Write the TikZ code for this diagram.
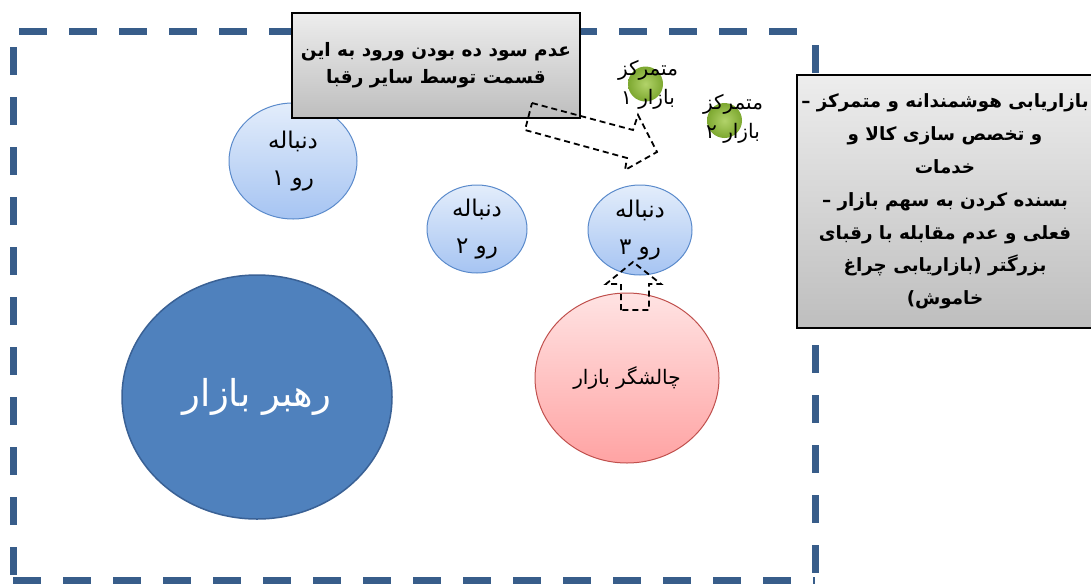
\documentclass[tikz,border=0pt]{standalone}
\usepackage{fontspec}
\setmainfont{DejaVu Sans}
\newfontfamily\ar[Script=Arabic]{DejaVu Sans}
\TeXXeTstate=1
\usetikzlibrary{shapes.geometric}
\definecolor{frameblue}{HTML}{385D8A}
\definecolor{leaderfill}{HTML}{4F81BD}
\definecolor{leaderdraw}{HTML}{3A6195}
\definecolor{folltop}{HTML}{E3EDFB}
\definecolor{follbot}{HTML}{A6C4F2}
\definecolor{folldraw}{HTML}{5A8ACB}
\definecolor{chaltop}{HTML}{FFE3E3}
\definecolor{chalbot}{HTML}{FFA3A3}
\definecolor{chaldraw}{HTML}{C0504D}
\definecolor{boxtop}{HTML}{EDEDED}
\definecolor{boxbot}{HTML}{BEBEBE}
\definecolor{greenin}{HTML}{B2D36A}
\definecolor{greenout}{HTML}{7DA830}
\tikzset{
  frameline/.style={draw=frameblue, line width=7pt, dash pattern=on 28pt off 22pt},
  blob/.style={ellipse, inner sep=0pt, align=center, line width=1pt},
  follower/.style={blob, draw=folldraw, top color=folltop, bottom color=follbot,
     font=\ar\fontsize{23}{37}\selectfont},
  graybox/.style={rectangle, draw=black, line width=1.3pt, top color=boxtop, bottom color=boxbot,
     align=center, inner sep=0pt, font=\ar\bfseries\fontsize{18.5}{27}\selectfont},
  dot/.style={circle, inner sep=0pt, minimum size=35pt, inner color=greenin, outer color=greenout},
  dotlabel/.style={align=center, inner sep=0pt, font=\ar\fontsize{20}{29}\selectfont},
  blockarrow/.style={draw=black, line width=1.8pt, dash pattern=on 6pt off 4pt, line join=miter}
}
\begin{document}
\begin{tikzpicture}[x=1pt,y=-1pt]
\useasboundingbox (0,0) rectangle (1091,584);
% dashed frame
\draw[frameline, dash phase=44pt] (13,31) -- (815,31);
\draw[frameline, dash phase=34pt] (13,31) -- (13,580);
\draw[frameline, dash phase=0pt] (13,580) -- (815,580);
\draw[frameline, dash phase=36pt] (815,31) -- (815,580);

% leader
\node[blob, draw=leaderdraw, line width=1.5pt, fill=leaderfill, minimum width=270pt, minimum height=244pt,
  text=white, font=\ar\fontsize{37}{40}\selectfont] (leader) at (257,397) {\beginR رهبر بازار\endR};

% followers
\node[follower, minimum width=128pt, minimum height=116pt] (f1) at (293,161)
  {\beginR دنباله\endR\\\beginR رو ۱\endR};
\node[follower, minimum width=100pt, minimum height=88pt] (f2) at (477,229)
  {\beginR دنباله\endR\\\beginR رو ۲\endR};
\node[follower, minimum width=104pt, minimum height=90pt] (f3) at (640,230)
  {\beginR دنباله\endR\\\beginR رو ۳\endR};

% challenger
\node[blob, draw=chaldraw, top color=chaltop, bottom color=chalbot, minimum width=184pt, minimum height=170pt,
  font=\ar\fontsize{20}{24}\selectfont] (chal) at (627,378) {\beginR چالشگر بازار\endR};

% niche dots
\node[dot] (d1) at (645.5,84) {};
\node[dot] (d2) at (724.5,120.5) {};
\node[dotlabel] (l1) at (648,85) {\beginR متمرکز\endR\\\beginR بازار ۱\endR};
\node[dotlabel] (l2) at (733,119) {\beginR متمرکز\endR\\\beginR بازار ۲\endR};

% boxes
\node[graybox, minimum width=288pt, minimum height=105pt] (topbox) at (436,65.5)
  {\beginR عدم سود ده بودن ورود به این\endR\\\beginR قسمت توسط سایر رقبا\endR};
\node[graybox, minimum width=296pt, minimum height=253pt, font=\ar\bfseries\fontsize{18.3}{32.8}\selectfont] (rightbox) at (945,201.5)
  {– \beginR بازاریابی هوشمندانه و متمرکز\endR\\
   \beginR و تخصص سازی کالا و\endR\\
   \beginR خدمات\endR\\
   – \beginR بسنده کردن به سهم بازار\endR\\
   \beginR فعلی و عدم مقابله با رقبای\endR\\
   \beginR بزرگتر (بازاریابی چراغ\endR\\
   \beginR خاموش)\endR};

% block arrow towards niche
\coordinate (a1) at (532,103);
\coordinate (a2) at (633,130);
\coordinate (a3) at (638,115);
\coordinate (a4) at (657,152);
\coordinate (a5) at (625,170);
\coordinate (a6) at (627,158);
\coordinate (a7) at (525,130);
\draw[blockarrow] (a1) -- (a2) -- (a3) -- (a4) -- (a5) -- (a6) -- (a7) -- cycle;

% block arrow from challenger up to follower 3
\coordinate (b1) at (621,310);
\coordinate (b2) at (621,284);
\coordinate (b3) at (606,284);
\coordinate (b4) at (633,262);
\coordinate (b5) at (661,284);
\coordinate (b6) at (649,284);
\coordinate (b7) at (649,310);
\draw[blockarrow] (b1) -- (b2) -- (b3) -- (b4) -- (b5) -- (b6) -- (b7) -- cycle;
\end{tikzpicture}
\end{document}
